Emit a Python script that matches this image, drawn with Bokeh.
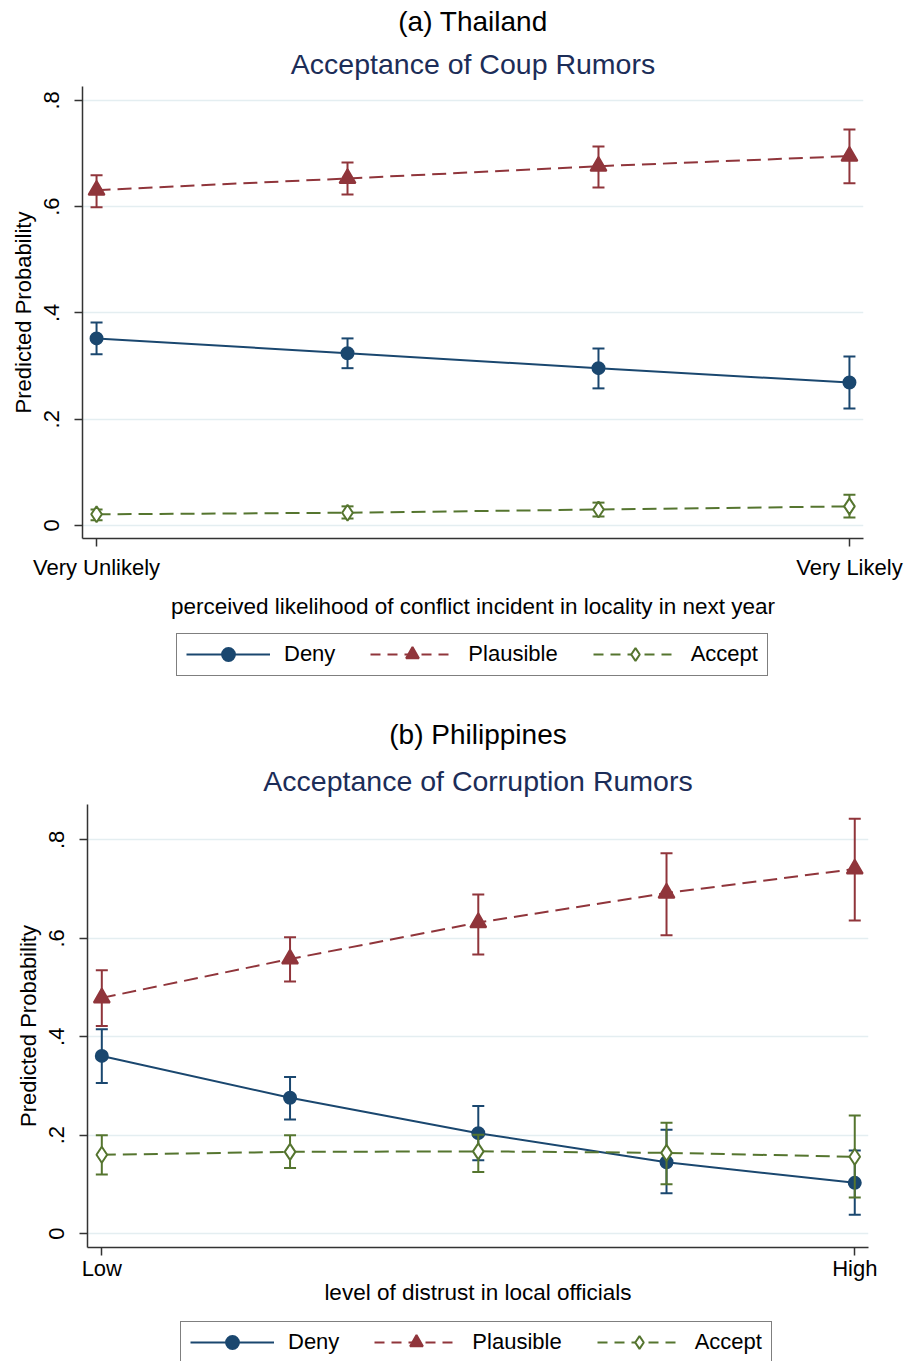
from bokeh.plotting import figure
from bokeh.models import Range1d, Legend, LegendItem, Title, FixedTicker
from bokeh.layouts import column, row
from bokeh.embed import file_html
from bokeh.resources import INLINE

FONT = "Liberation Sans"
NAVY = "#1a476f"
MAROON = "#90353b"
GREEN = "#55752f"
TITLE_COLOR = "#1c2d58"
GRID = "#e4eef1"
AXIS = "#333333"
W = 908

# ---------------- data: (a) Thailand ----------------
a_x = [1, 2, 3, 4]
a_xticks = [1, 4]
a_xlabels = ["Very Unlikely", "Very Likely"]
a_deny = [0.352, 0.324, 0.296, 0.269]
a_deny_lo = [0.322, 0.296, 0.258, 0.220]
a_deny_hi = [0.382, 0.352, 0.333, 0.318]
a_plaus = [0.631, 0.653, 0.676, 0.695]
a_plaus_lo = [0.599, 0.623, 0.636, 0.644]
a_plaus_hi = [0.659, 0.683, 0.713, 0.745]
a_acc = [0.021, 0.024, 0.030, 0.036]
a_acc_lo = [0.010, 0.013, 0.017, 0.015]
a_acc_hi = [0.030, 0.036, 0.043, 0.058]

# ---------------- data: (b) Philippines ----------------
b_x = [1, 2, 3, 4, 5]
b_xticks = [1, 5]
b_xlabels = ["Low", "High"]
b_deny = [0.361, 0.276, 0.204, 0.145, 0.103]
b_deny_lo = [0.306, 0.232, 0.149, 0.082, 0.038]
b_deny_hi = [0.415, 0.318, 0.259, 0.211, 0.169]
b_plaus = [0.479, 0.558, 0.632, 0.692, 0.741]
b_plaus_lo = [0.422, 0.512, 0.567, 0.606, 0.636]
b_plaus_hi = [0.535, 0.602, 0.689, 0.773, 0.843]
b_acc = [0.160, 0.166, 0.167, 0.164, 0.156]
b_acc_lo = [0.120, 0.133, 0.125, 0.100, 0.073]
b_acc_hi = [0.200, 0.200, 0.201, 0.225, 0.240]

y_ticks = [0, 0.2, 0.4, 0.6, 0.8]
y_labels = ["0", ".2", ".4", ".6", ".8"]
series_names = ["Deny", "Plausible", "Accept"]

DASH = "14 7"
STYLES = [
    (NAVY, None, "circle", 12, NAVY),
    (MAROON, DASH, "triangle", 16, MAROON),
    (GREEN, DASH, "diamond", 16, "white"),
]


def make_panel(label, title, xlab, x, xticks, xlabels, series, xr, yr,
               height, border_left, border_right, border_top, border_bottom,
               tick_standoff, axlab_standoff, t1_standoff, t2_standoff):
    p = figure(width=W, height=height, title=None,
               x_range=Range1d(*xr), y_range=Range1d(*yr),
               output_backend="svg", toolbar_location=None,
               min_border_left=border_left, min_border_right=border_right,
               min_border_top=border_top, min_border_bottom=border_bottom)
    p.outline_line_color = None
    p.background_fill_color = "white"
    p.border_fill_color = "white"

    t1 = Title(text=title, align="center", text_font=FONT, text_font_size="28.5px",
               text_color=TITLE_COLOR, text_font_style="normal", standoff=t1_standoff)
    p.add_layout(t1, "above")
    t2 = Title(text=label, align="center", text_font=FONT, text_font_size="28px",
               text_color="black", text_font_style="normal", standoff=t2_standoff)
    p.add_layout(t2, "above")

    xa = p.xaxis[0]
    xa.ticker = FixedTicker(ticks=xticks)
    xa.major_label_overrides = {t: l for t, l in zip(xticks, xlabels)}
    xa.axis_label = xlab
    ya = p.yaxis[0]
    ya.ticker = FixedTicker(ticks=y_ticks)
    ya.major_label_overrides = {t: l for t, l in zip(y_ticks, y_labels)}
    ya.axis_label = "Predicted Probability"
    ya.major_label_orientation = "vertical"
    for ax in (xa, ya):
        ax.axis_label_text_font = FONT
        ax.axis_label_text_font_style = "normal"
        ax.axis_label_text_color = "black"
        ax.major_label_text_font = FONT
        ax.major_label_text_font_size = "22px"
        ax.major_label_text_color = "black"
        ax.axis_line_color = AXIS
        ax.axis_line_width = 1.5
        ax.major_tick_line_color = AXIS
        ax.major_tick_line_width = 1.5
        ax.major_tick_in = 0
        ax.major_tick_out = 8
        ax.minor_tick_line_color = None
    xa.axis_label_text_font_size = "22.5px"
    ya.axis_label_text_font_size = "22px"
    xa.major_label_standoff = tick_standoff
    xa.axis_label_standoff = axlab_standoff
    ya.major_label_standoff = 15
    ya.axis_label_standoff = 6

    p.xgrid.visible = False
    p.ygrid.grid_line_color = GRID
    p.ygrid.grid_line_width = 1.5

    for (vals, lo, hi), (col, dash, mk, sz, fill) in zip(series, STYLES):
        p.segment(x0=x, y0=lo, x1=x, y1=hi, line_color=col, line_width=2)
        p.scatter(x=x, y=lo, marker="dash", size=12, line_color=col, line_width=2)
        p.scatter(x=x, y=hi, marker="dash", size=12, line_color=col, line_width=2)
        if dash:
            p.line(x=x, y=vals, line_color=col, line_width=2, line_dash=dash)
        else:
            p.line(x=x, y=vals, line_color=col, line_width=2)
        p.scatter(x=x, y=vals, marker=mk, size=sz, line_color=col,
                  fill_color=fill, line_width=2)
    return p


def legend_fig(height, x, series, loc):
    lf = figure(width=W, height=height, x_axis_type=None, y_axis_type=None,
                x_range=Range1d(0, 1), y_range=Range1d(0, 1),
                output_backend="svg", toolbar_location=None, min_border=0)
    lf.outline_line_color = None
    items = []
    for name, (vals, lo, hi), (col, dash, mk, sz, fill) in zip(series_names, series, STYLES):
        if dash:
            ln = lf.line(x=x, y=vals, line_color=col, line_width=2, line_dash="10 7",
                         visible=False)
        else:
            ln = lf.line(x=x, y=vals, line_color=col, line_width=2, visible=False)
        sc = lf.scatter(x=x, y=vals, marker=mk, size=sz, line_color=col,
                        fill_color=fill, line_width=2, visible=False)
        items.append(LegendItem(label=name, renderers=[ln, sc]))
    leg = Legend(items=items, orientation="horizontal", location=loc, margin=0,
                 label_text_font=FONT, label_text_font_size="22px",
                 label_text_color="black",
                 glyph_width=84, glyph_height=32, label_standoff=14,
                 spacing=35, padding=dict(left=9, right=9, top=4, bottom=5),
                 label_height=20,
                 border_line_color="black", border_line_width=1,
                 background_fill_color="white", background_fill_alpha=1.0,
                 inactive_fill_alpha=0.0, click_policy="none")
    lf.add_layout(leg, "center")
    return lf


a_series = [(a_deny, a_deny_lo, a_deny_hi),
            (a_plaus, a_plaus_lo, a_plaus_hi),
            (a_acc, a_acc_lo, a_acc_hi)]
b_series = [(b_deny, b_deny_lo, b_deny_hi),
            (b_plaus, b_plaus_lo, b_plaus_hi),
            (b_acc, b_acc_lo, b_acc_hi)]

pa = make_panel("(a) Thailand", "Acceptance of Coup Rumors",
                "perceived likelihood of conflict incident in locality in next year",
                a_x, a_xticks, a_xlabels, a_series,
                (0.944, 4.056), (-0.0245, 0.826),
                630, 82, 45, 86, 92, 8, 11, 14, 3)
la = legend_fig(60, a_x, a_series, (176, 14))

pb = make_panel("(b) Philippines", "Acceptance of Corruption Rumors",
                "level of distrust in local officials",
                b_x, b_xticks, b_xlabels, b_series,
                (0.924, 5.073), (-0.0284, 0.872),
                628, 87, 40, 114, 71, 0, -4, 16, 9)
lb = legend_fig(43, b_x, b_series, (180, -3))

layout = column(row(pa), row(la), row(pb), row(lb), spacing=0)
open("out.html", "w").write(file_html(layout, INLINE))
